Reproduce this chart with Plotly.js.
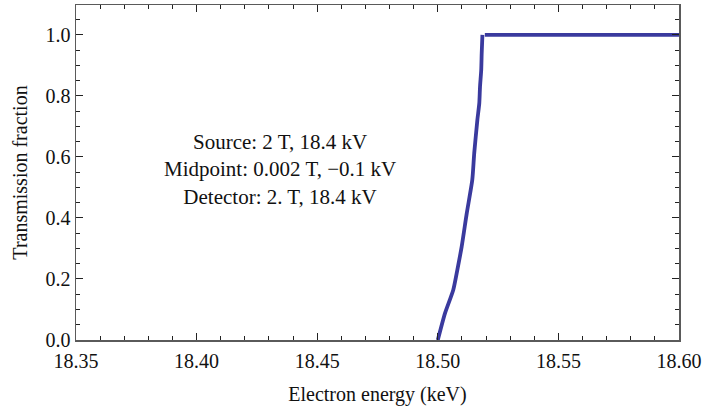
<!DOCTYPE html>
<html>
<head>
<meta charset="utf-8">
<script src="https://cdn.plot.ly/plotly-3.0.1.min.js"></script>
<style>
  html, body { margin: 0; padding: 0; background: #fff; }
  #chart { width: 703px; height: 410px; }
</style>
</head>
<body>
<div id="chart"></div>
<script>
// Transmission function: rising edge, then flat at full transmission
const energyKeV = [18.5000, 18.5030, 18.5064, 18.5081, 18.5099, 18.5120, 18.5143, 18.5151, 18.5164, 18.5172, 18.5175, 18.5180, 18.5182, 18.5185, null, 18.5195, 18.5900, 18.6000];
const transmission = [0.000, 0.088, 0.164, 0.230, 0.306, 0.415, 0.525, 0.612, 0.721, 0.776, 0.830, 0.885, 0.940, 1.000, null, 1.000, 1.000, 1.000];

const xTickValues = [18.35, 18.40, 18.45, 18.50, 18.55, 18.60];
const yTickValues = [0.0, 0.2, 0.4, 0.6, 0.8, 1.0];

const settingsLines = [
  'Source: 2 T, 18.4 kV',
  'Midpoint: 0.002 T, \u22120.1 kV',
  'Detector: 2. T, 18.4 kV'
];

const serif = 'Liberation Serif, Times New Roman, serif';
const frameColor = '#5a5a5a';

const trace = {
  x: energyKeV,
  y: transmission,
  type: 'scatter',
  mode: 'lines',
  connectgaps: false,
  line: { color: 'rgb(58,58,158)', width: 3.8, shape: 'spline', smoothing: 0.6 },
  hoverinfo: 'skip'
};

const axisCommon = {
  showline: true,
  linecolor: frameColor,
  linewidth: 1.5,
  mirror: 'allticks',
  ticks: 'inside',
  ticklen: 7,
  tickwidth: 1,
  tickcolor: '#222',
  showgrid: false,
  zeroline: false,
  tickfont: { family: serif, size: 20, color: '#111' }
};

const layout = {
  width: 703,
  height: 410,
  margin: { l: 76, r: 24, t: 5, b: 70 },
  paper_bgcolor: '#fff',
  plot_bgcolor: '#fff',
  showlegend: false,
  xaxis: Object.assign({}, axisCommon, {
    range: [18.35, 18.60],
    tickvals: xTickValues,
    tickformat: '.2f',
    ticklabelstandoff: 2,
    minor: { dtick: 0.01, tick0: 18.35, ticks: 'inside', ticklen: 4, tickcolor: '#222', showgrid: false },
    title: { text: 'Electron energy (keV)', font: { family: serif, size: 20, color: '#111' }, standoff: 16 }
  }),
  yaxis: Object.assign({}, axisCommon, {
    range: [0, 1.098],
    tickvals: yTickValues,
    tickformat: '.1f',
    minor: { dtick: 0.05, tick0: 0, ticks: 'inside', ticklen: 4, tickcolor: '#222', showgrid: false },
    title: { text: 'Transmission fraction', font: { family: serif, size: 20, color: '#111' }, standoff: 12 }
  }),
  annotations: [{
    x: 18.4346,
    y: 0.56,
    xref: 'x',
    yref: 'y',
    text: settingsLines.join('<br>'),
    showarrow: false,
    align: 'center',
    font: { family: serif, size: 21, color: '#111' }
  }]
};

Plotly.newPlot('chart', [trace], layout, { staticPlot: true, displayModeBar: false });
</script>
</body>
</html>
